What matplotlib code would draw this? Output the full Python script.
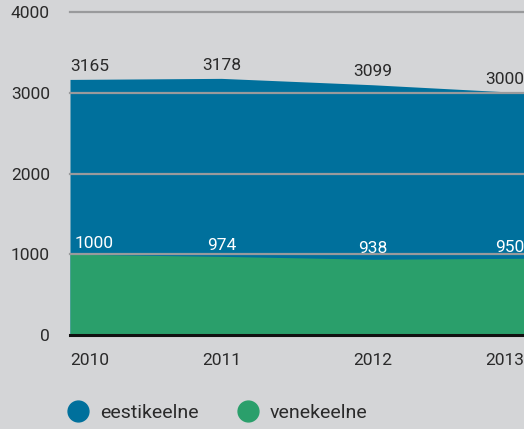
import matplotlib
matplotlib.use("Agg")
import matplotlib.pyplot as plt
from matplotlib.lines import Line2D

years = [2010, 2011, 2012, 2013]
eestikeelne = [3165, 3178, 3099, 3000]
venekeelne = [1000, 974, 938, 950]
series_names = ["eestikeelne", "venekeelne"]
yticks = [0, 1000, 2000, 3000, 4000]

BG = "#d4d5d7"
BLUE = "#00709c"
GREEN = "#2a9f6b"
GRID = "#999a9c"
TXT = "#2a2a2a"
FS = 12.5
LFS = 14

plt.rcParams['font.family'] = ['Roboto', 'DejaVu Sans']

fig = plt.figure(figsize=(5.24, 4.29), dpi=100, facecolor=BG)
ax = fig.add_axes([70/524, 1-335/429, 454/524, (335-12)/429])
ax.set_facecolor(BG)

ax.fill_between(years, 0, eestikeelne, color=BLUE, lw=0, zorder=1)
ax.fill_between(years, 0, venekeelne, color=GREEN, lw=0, zorder=2)

for t in yticks[1:]:
    ax.axhline(t, color=GRID, lw=1.6, zorder=3, clip_on=False)
ax.axhline(0, color="#111111", lw=2.2, zorder=4, clip_on=False)

ax.set_xlim(years[0], years[-1])
ax.set_ylim(0, 4000)
for s in ax.spines.values():
    s.set_visible(False)

ax.set_yticks(yticks)
ax.set_yticklabels([str(t) for t in yticks], fontsize=FS, color=TXT)
ax.tick_params(axis='y', length=0, pad=14.5)
ax.set_xticks(years)
ax.set_xticklabels([str(y) for y in years], fontsize=FS, color=TXT)
ax.tick_params(axis='x', length=0, pad=13)
xl = ax.get_xticklabels()
xl[0].set_ha('left')
xl[-1].set_ha('right')

n = len(years)
for i, (x, v) in enumerate(zip(years, eestikeelne)):
    ha = 'left' if i == 0 else ('right' if i == n-1 else 'center')
    ax.annotate(str(v), (x, v), xytext=(0, 4), textcoords='offset points',
                ha=ha, va='bottom', fontsize=FS, color=TXT, zorder=5,
                annotation_clip=False)
for i, (x, v) in enumerate(zip(years, venekeelne)):
    ha = 'left' if i == 0 else ('right' if i == n-1 else 'center')
    ax.annotate(str(v), (x, v), xytext=(3 if i == 0 else 0, 2.5), textcoords='offset points',
                ha=ha, va='bottom', fontsize=FS, color='white', zorder=5,
                annotation_clip=False)

colors = [BLUE, GREEN]
anchors_px = [68.3, 238.3]
for name, c, ax_px in zip(series_names, colors, anchors_px):
    h = Line2D([], [], marker='o', ls='none', markersize=15, color=c, mec=c)
    fig.legend([h], [name], loc='center left', bbox_to_anchor=(ax_px/524, 1-413/429),
               frameon=False, fontsize=LFS, labelcolor=TXT, handletextpad=0.63,
               handlelength=1.0, borderpad=0, borderaxespad=0)

fig.savefig("out.png", dpi=100, facecolor=BG)
